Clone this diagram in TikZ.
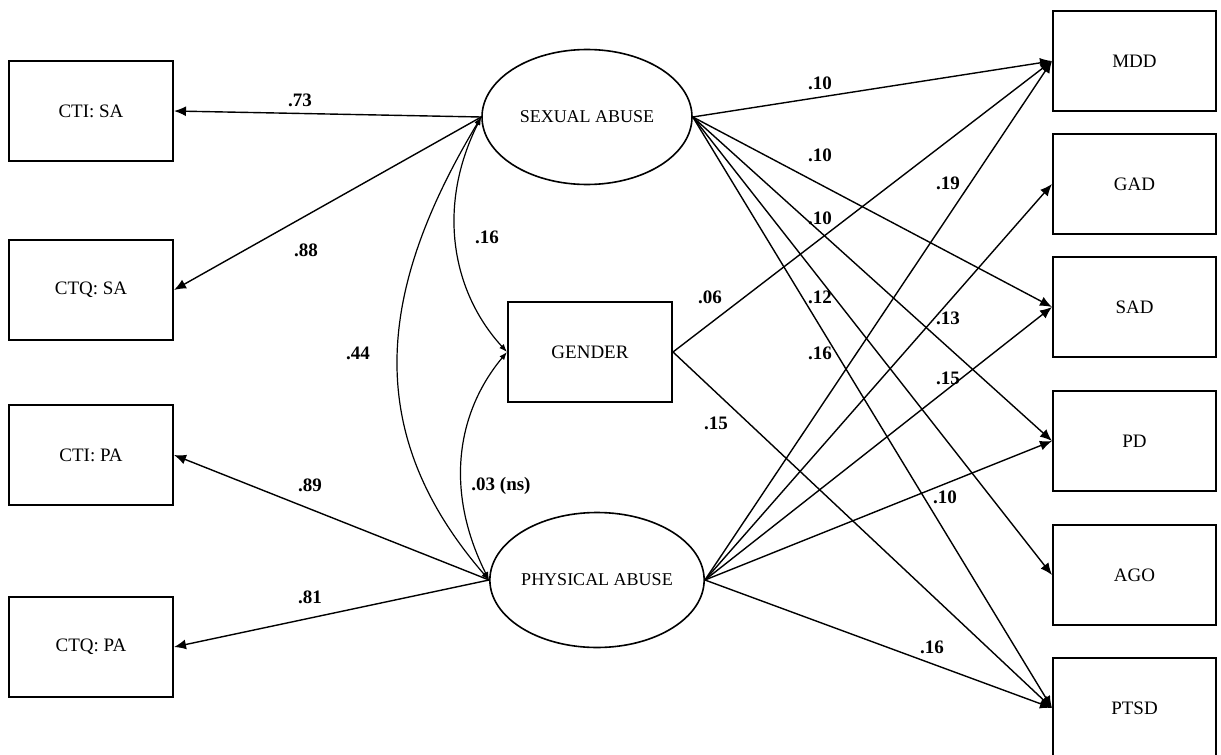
\documentclass[tikz,border=0pt]{standalone}
\usepackage{fontspec}
\setmainfont{Liberation Serif}
\usetikzlibrary{shapes.geometric, arrows.meta}
\tikzstyle{arrow} = [line width=0.7pt,-{Latex[length=6pt,width=5pt]}]
\tikzstyle{corr} = [line width=0.6pt,{Latex[length=4pt,width=3pt]}-{Latex[length=4pt,width=3pt]}]

\begin{document}
\begin{tikzpicture}
        [
            x=0.5pt, y=-0.5pt,
            box/.style={rectangle,draw=black,line width=1pt,minimum width=82pt,minimum height=50pt,font=\fontsize{9.5}{11}\selectfont},
            latent/.style={ellipse,draw=black,line width=0.8pt,minimum width=105pt,minimum height=67.5pt,inner sep=0pt,font=\fontsize{9}{11}\selectfont},
            coef/.style={font=\fontsize{9.5}{11}\selectfont\bfseries},
        ]
    \useasboundingbox (0,0) rectangle (1221,755);

    % indicators
    \node[box] (ctisa) at (91,111){CTI: SA};
    \node[box] (ctqsa) at (91,290){CTQ: SA};
    \node[box] (ctipa) at (91,455){CTI: PA};
    \node[box] (ctqpa) at (91,647){CTQ: PA};

    % latent factors and gender
    \node[latent] (sa) at (587,117){SEXUAL ABUSE};
    \node[latent] (pa) at (597,580){PHYSICAL ABUSE};
    \node[box] (gender) at (590,352){GENDER};

    % outcomes
    \foreach \name/\lab/\y in {mdd/MDD/61, gad/GAD/184, sad/SAD/307, pd/PD/441, ago/AGO/575, ptsd/PTSD/708}
        \node[box,minimum width=81.5pt] (\name) at (1134.5,\y){\lab};

    % loadings
    \draw[arrow] (sa.west) -- (ctisa.east);
    \draw[arrow] (sa.west) -- (ctqsa.east);
    \draw[arrow] (pa.west) -- (ctipa.east);
    \draw[arrow] (pa.west) -- (ctqpa.east);

    % correlations
    \draw[corr] (sa.west) .. controls +(-45,90) and +(-55,-60) .. (gender.west);
    \draw[corr] (gender.west) .. controls +(-50,60) and +(-45,-90) .. (pa.west);
    \draw[corr] (sa.west) .. controls +(-102,170) and +(-130,-150) .. (pa.west);

    % paths to outcomes
    \foreach \t in {mdd,sad,pd,ago,ptsd}
        \draw[arrow] (sa.east) -- (\t.west);
    \foreach \t in {mdd,gad,sad,pd,ptsd}
        \draw[arrow] (pa.east) -- (\t.west);
    \draw[arrow] (gender.east) -- (mdd.west);
    \draw[arrow] (gender.east) -- (ptsd.west);

    % coefficients
    \node[coef] (c1) at (300,100){.73};
    \node[coef] (c2) at (306,250){.88};
    \node[coef] (c3) at (487,237){.16};
    \node[coef] (c4) at (358,353){.44};
    \node[coef] (c5) at (310,485){.89};
    \node[coef] (c6) at (310,597){.81};
    \node[coef] (c7) at (501,486){.03 (ns)};
    \node[coef] (c8) at (820,83){.10};
    \node[coef] (c9) at (820,155){.10};
    \node[coef] (c10) at (820,218){.10};
    \node[coef] (c11) at (820,297){.12};
    \node[coef] (c12) at (820,353){.16};
    \node[coef] (c13) at (948,183){.19};
    \node[coef] (c14) at (948,318){.13};
    \node[coef] (c15) at (948,378){.15};
    \node[coef] (c16) at (710,297){.06};
    \node[coef] (c17) at (716,423){.15};
    \node[coef] (c18) at (945,497){.10};
    \node[coef] (c19) at (932,647){.16};
\end{tikzpicture}
\end{document}
